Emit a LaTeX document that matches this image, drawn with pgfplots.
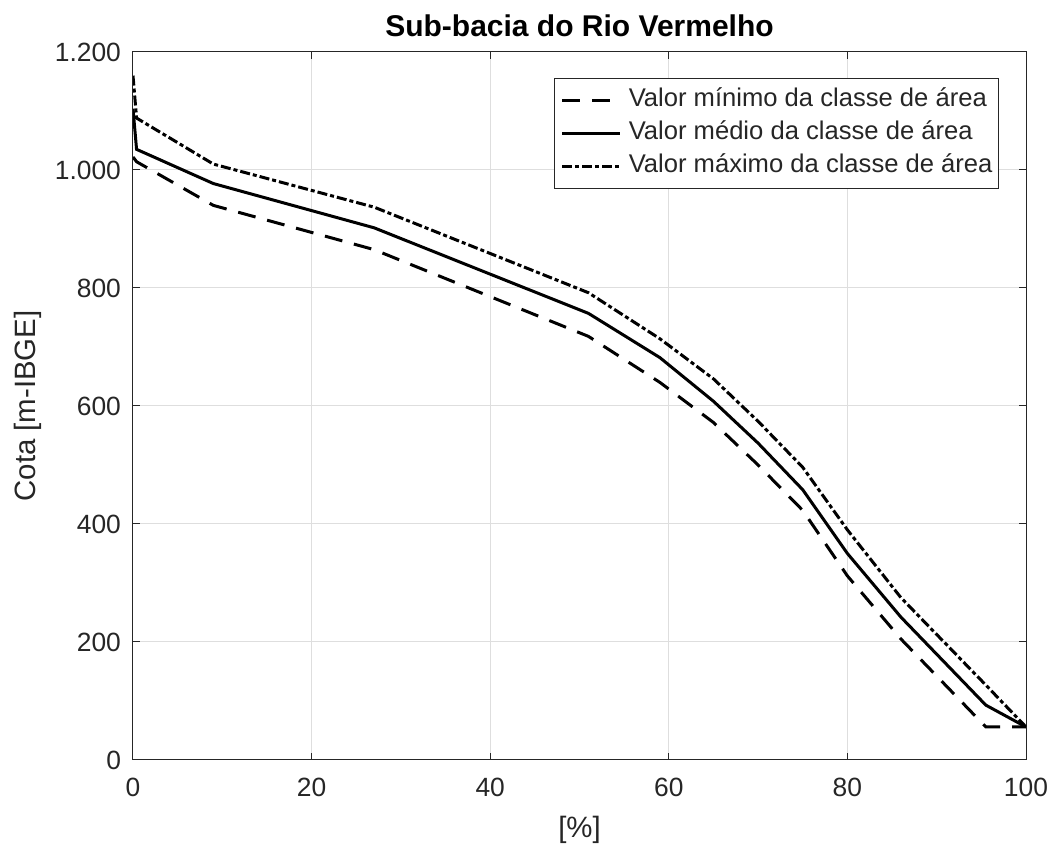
\documentclass[border=0pt]{standalone}
\usepackage{pgfplots}
\pgfplotsset{compat=1.18}
\usepackage{fontspec}
\setmainfont{Liberation Sans}
\definecolor{txt}{gray}{0.15}
\definecolor{gridc}{gray}{0.87}
\begin{document}
\begin{tikzpicture}
\begin{axis}[
  scale only axis,
  width=446.5pt, height=354pt,
  xmin=0, xmax=100, ymin=0, ymax=1200,
  xtick={0,20,40,60,80,100},
  ytick={0,200,400,600,800,1000,1200},
  /pgf/number format/.cd, 1000 sep={.}, assume math mode=true,
  /pgfplots/.cd,
  grid=major,
  major grid style={gridc, line width=0.5pt},
  axis line style={txt, line width=0.5pt},
  tick style={txt, line width=0.5pt},
  major tick length=3.5pt,
  tick align=inside,
  ticklabel style={font=\fontsize{13.2}{15}\selectfont, text=txt},
  xticklabel style={yshift=-5.5pt},
  yticklabel style={xshift=-2.5pt},
  title={\textbf{Sub-bacia do Rio Vermelho}},
  title style={font=\fontsize{15}{17}\selectfont, at={(axis description cs:0.5,1.0205)}, anchor=center, text=black},
  xlabel={[\%]},
  xlabel style={font=\fontsize{14.7}{17}\selectfont, text=txt, at={(axis description cs:0.5,-0.0989)}, anchor=center},
  ylabel={Cota [m-IBGE]},
  ylabel style={font=\fontsize{14.7}{17}\selectfont, text=txt, at={(axis description cs:-0.118,0.5)}, anchor=center},
  legend style={at={(axis description cs:0.9698,0.9633)}, anchor=north east,
    font=\fontsize{12.8}{14}\selectfont, text=txt, draw=txt, line width=0.5pt,
    inner xsep=3pt, inner ysep=4.8pt, row sep=4.7pt, column sep=3.5pt,
    nodes={inner xsep=0pt, inner ysep=0pt, text height=9pt, text depth=3pt},
    cells={anchor=west}},
  legend image code/.code={\draw[#1] (0pt,0pt) -- (29pt,0pt);},
]
\coordinate (sw) at (rel axis cs:0,0);
\coordinate (ne) at (rel axis cs:1,1);
\addplot[black, line width=1.5pt, dash pattern=on 9pt off 6pt] coordinates {
(0,1022) (0.4,1014) (9,940) (27,865) (51,718) (59,640) (65,572) (70,500) (75,423) (80,312) (86,205) (95.5,56) (100,56)};
\addlegendentry{Valor mínimo da classe de área}
\addplot[black, line width=1.5pt] coordinates {
(0,1104) (0.4,1035) (9,977) (27,902) (51,757) (59,682) (65,608) (70,537) (75,458) (80,350) (86,242) (95.5,93) (100,56)};
\addlegendentry{Valor médio da classe de área}
\addplot[black, line width=1.5pt, dash pattern=on 5pt off 1.5pt on 2pt off 1.5pt] coordinates {
(0,1160) (0.4,1088) (9,1010) (27,937) (51,792) (59,714) (65,646) (70,574) (75,496) (80,390) (86,275) (95.5,127) (100,56)};
\addlegendentry{Valor máximo da classe de área}
\end{axis}
\pgfresetboundingbox
\useasboundingbox ([xshift=-66.5pt,yshift=-42pt]sw) rectangle ([xshift=11.5pt,yshift=26pt]ne);
\end{tikzpicture}
\end{document}
